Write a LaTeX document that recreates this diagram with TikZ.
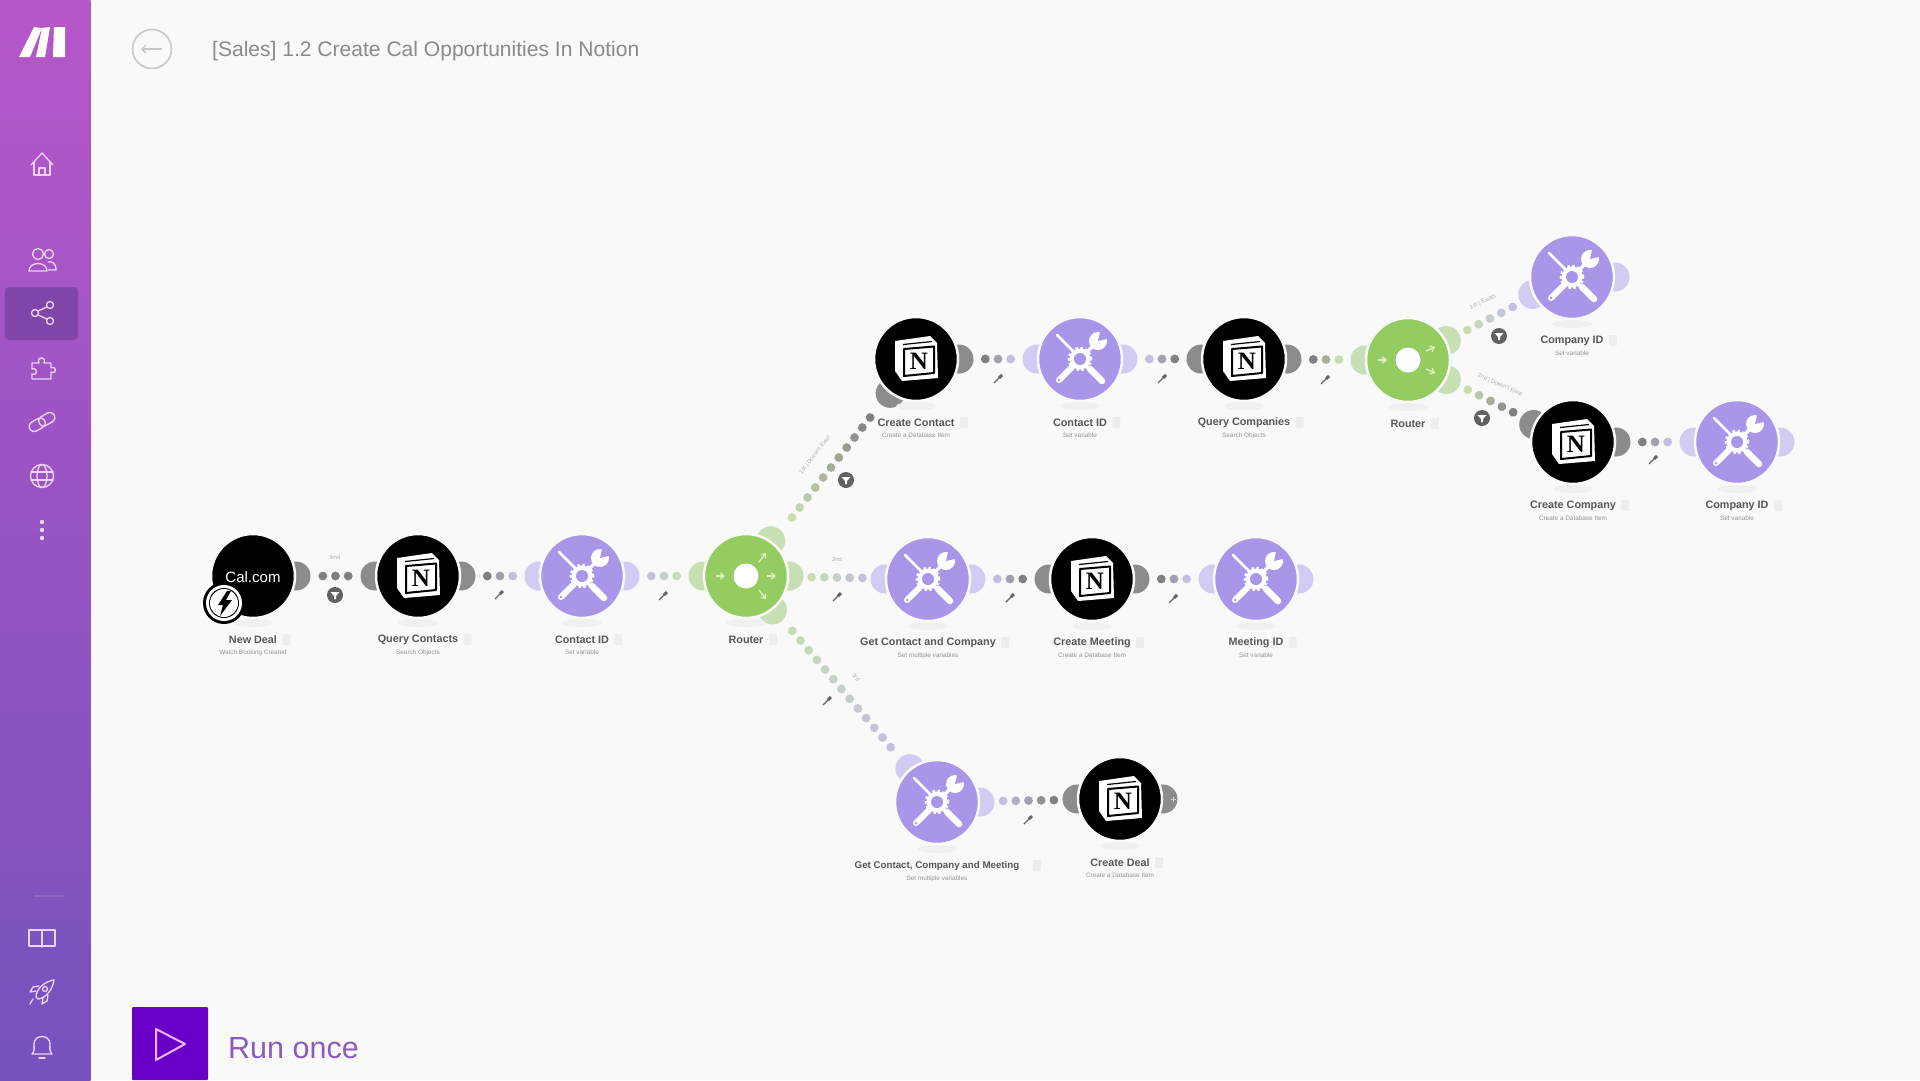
\documentclass[tikz,border=0pt]{standalone}
\usepackage{fontspec}
\setmainfont{Liberation Sans}
\newfontfamily\serifn{Liberation Serif}
\usetikzlibrary{calc,decorations.markings,arrows.meta}
\definecolor{bgc}{HTML}{F9F9F9}
\definecolor{purp}{HTML}{A996E8}
\definecolor{grn}{HTML}{95CC62}
\definecolor{earP}{HTML}{D3CCF2}
\definecolor{earG}{HTML}{8C8C8C}
\definecolor{earV}{HTML}{C8DEB4}
\definecolor{dotP}{HTML}{C4BFDE}
\definecolor{dotG}{HTML}{808080}
\definecolor{dotV}{HTML}{C9DDB5}
\definecolor{side}{HTML}{EFD2F8}
\definecolor{sideT}{HTML}{B656C9}
\definecolor{sideM}{HTML}{A252C2}
\definecolor{sideB}{HTML}{7652BC}
\definecolor{rarr}{HTML}{DDF2C6}
\definecolor{runbtn}{HTML}{6A00C8}
\definecolor{runpl}{HTML}{F0B8F8}
\definecolor{runtx}{HTML}{8A5CC0}
\definecolor{tabc}{HTML}{7F45A8}
\tikzset{
  x=1pt,y=-1pt,
  modbase/.style={circle,minimum size=84pt,inner sep=0pt,draw=bgc,line width=2.5pt},
  titletxt/.style={inner sep=0pt,font=\bfseries\fontsize{10.8}{12}\selectfont,text=black!66},
  subtxt/.style={inner sep=0pt,font=\fontsize{6.4}{8}\selectfont,text=black!42},
  notebox/.style={inner sep=0pt,minimum width=8pt,minimum height=11pt,fill=black!7,rounded corners=1pt},
  linklbl/.style={inner sep=0pt,font=\fontsize{5.8}{7}\selectfont,text=black!32},
  sideline/.style={draw=side,line width=1.35pt,line cap=round,line join=round,fill=none},
  dotlink/.style n args={3}{decorate,decoration={markings,mark=at position 0.5 with {%
    \foreach \k in {1,...,#3}{\pgfmathsetmacro\mx{100*(\k-1)/(#3-1)}%
      \fill[color={#2!\mx!#1}] ({(\k-(#3+1)/2)*12.7pt},0pt) circle (4.4pt);}}}},
  rarrow/.style={draw=rarr,line width=1.3pt,-{Straight Barb[length=3.5pt,width=6pt]}},
}
\def\notegap{5pt}
% name, x, y, fill, ear colour, ear angles, title
\newcommand\modul[7]{%
  \foreach \ang in {#6}{\fill[#5] ($(#2,#3)+(\ang:43)$) circle (14.5pt);}%
  \fill[black!6] (#2,#3+47) ellipse (20pt and 4pt);%
  \node[modbase,fill=#4] (#1) at (#2,#3) {};%
  \node[titletxt] (#1-t) at (#2,#3+63.5) {#7};%
  \node[notebox,anchor=west,xshift=\notegap] (#1-b) at (#1-t.east) {};%
}
\newcommand\subl[2]{\node[subtxt] (#1-s) at ($(#1)+(0,76.5)$) {#2};}
\newcommand\notionicon[1]{%
  \begin{scope}[shift={(#1)}]
    \fill[white] (-21,-18) -- (14,-23) -- (21,-16) -- (22,19) -- (-14,22) -- (-21,12) -- cycle;
    \draw[black,line width=1.2pt] (-13,-14.5) -- (16,-17.5);
    \draw[black,line width=2pt,fill=white,line join=round] (-12,-10) -- (18,-12.5) -- (18,14) -- (-12,17) -- cycle;
    \node[inner sep=0pt,font=\serifn\bfseries\fontsize{25}{25}\selectfont,text=black] (#1-n) at (3,2) {N};
  \end{scope}}
\newcommand\toolsicon[1]{%
  \begin{scope}[shift={(#1)}]
    \draw[white,line width=2.6pt,line cap=round] (-23,-24) -- (-5,-6);
    \draw[white,line width=2.6pt] (5,5) -- (9,9);
    \draw[white,line width=6.5pt,line cap=round] (10,10) -- (22,22);
    \draw[white,line width=6pt,line cap=round] (-21,21) -- (-8,8);
    \fill[purp] (-21,21) circle (1.4pt);
    \draw[white,line width=3.5pt] (6,-6) -- (15,-15);
    \fill[white] (18,-18) circle (9pt);
    \fill[purp] (18,-18) -- (31,-21) -- (21,-31) -- cycle;
    \draw[white,line width=2.6pt,dash pattern=on 2.4pt off 2.4pt] (0,0) circle (11pt);
    \fill[white] (0,0) circle (10.5pt);
    \fill[purp] (0,0) circle (6pt);
  \end{scope}}
\newcommand\filtericon[2]{%
  \fill[black!62] (#1,#2) circle (8pt);
  \fill[white] (#1-4.5,#2-3) -- (#1+4.5,#2-3) -- (#1+1,#2+1) -- (#1+1,#2+4) -- (#1-1,#2+4) -- (#1-1,#2+1) -- cycle;}
\newcommand\wrenchicon[2]{%
  \draw[black!60,line width=1.3pt] (#1-4,#2+4) -- (#1+2,#2-2);
  \draw[black!60,line width=3pt] (#1+1,#2-1) -- (#1+4,#2-4);}
\begin{document}
\begin{tikzpicture}
\useasboundingbox (0,0) rectangle (1920,1080);
\fill[bgc] (0,0) rectangle (1920,1080);
% sidebar
\shade[top color=sideT,middle color=sideM,bottom color=sideB] (0,0) rectangle (90.6,1080);
\fill[white] (19,57) -- (30,57) -- (42,28) -- (34,27) -- cycle;
\fill[white] (36,57) -- (45,57) -- (50,27) -- (42,28) -- cycle;
\fill[white] (53,57) -- (65,57) -- (65,27) -- (54,27) -- cycle;
\fill[tabc,rounded corners=4pt] (5,287) rectangle (78,340);
% home
\begin{scope}[shift={(42,164)}]
  \draw[sideline] (-11,1) -- (0,-11) -- (11,1);
  \draw[sideline] (-8,-2) -- (-8,11) -- (8,11) -- (8,-2);
  \draw[sideline] (-3,11) -- (-3,4) -- (3,4) -- (3,11);
\end{scope}
% people
\begin{scope}[shift={(42,260)}]
  \draw[sideline] (-4,-6) circle (5.5pt);
  \draw[sideline] (7,-6) circle (4.5pt);
  \draw[sideline] (-13,11) .. controls (-13,1) and (5,1) .. (5,11) -- cycle;
  \draw[sideline] (6,2) .. controls (10,1) and (14,3) .. (14,10) -- (6,10);
\end{scope}
% share
\begin{scope}[shift={(42,313)}]
  \draw[sideline] (-7,0) circle (3.5pt);
  \draw[sideline] (8,-8) circle (3.5pt);
  \draw[sideline] (8,8) circle (3.5pt);
  \draw[sideline] (-4,-2) -- (5,-6);
  \draw[sideline] (-4,2) -- (5,6);
\end{scope}
% puzzle
\begin{scope}[shift={(42,369)}]
  \draw[sideline] (-10,-6) -- (-3,-6) .. controls (-6,-13) and (5,-13) .. (2,-6) -- (9,-6) -- (9,-1) .. controls (15,-4) and (15,6) .. (9,3) -- (9,10) -- (-10,10) -- (-10,5) .. controls (-4,7) and (-4,-2) .. (-10,0) -- cycle;
\end{scope}
% link
\begin{scope}[shift={(42,422)},rotate=30]
  \draw[sideline,rounded corners=4.5pt] (-14,-5) rectangle (3,5);
  \draw[sideline,rounded corners=4.5pt] (-3,-5) rectangle (14,5);
\end{scope}
% globe
\begin{scope}[shift={(42,476)}]
  \draw[sideline] (0,0) circle (11.5pt);
  \draw[sideline] (0,0) ellipse (5pt and 11.5pt);
  \draw[sideline] (-11,-4) -- (11,-4);
  \draw[sideline] (-11,4) -- (11,4);
\end{scope}
% dots
\foreach \yy in {522,530,538}{\fill[side] (42,\yy) circle (2.2pt);}
\fill[white,opacity=.12] (34,895) rectangle (64,897);
% book
\begin{scope}[shift={(42,938)}]
  \draw[sideline] (0,-8) -- (-13,-8) -- (-13,8) -- (0,8) -- (13,8) -- (13,-8) -- cycle;
  \draw[sideline] (0,-8) -- (0,9);
\end{scope}
% rocket
\begin{scope}[shift={(42,992)}]
  \draw[sideline] (-6,5) .. controls (-6,-4) and (4,-11) .. (12,-12) .. controls (11,-4) and (5,6) .. (-4,7) -- cycle;
  \draw[sideline] (3,-3) circle (2.5pt);
  \draw[sideline] (-6,-1) -- (-12,0) -- (-9,-5) -- (-3,-6);
  \draw[sideline] (1,6) -- (0,12) -- (5,9) -- (6,3);
  \draw[sideline] (-9,7) -- (-12,12);
\end{scope}
% bell
\begin{scope}[shift={(42,1047)}]
  \draw[sideline] (-10,7) .. controls (-7,4) and (-8,0) .. (-8,-3) .. controls (-8,-13) and (8,-13) .. (8,-3) .. controls (8,0) and (7,4) .. (10,7) -- cycle;
  \draw[sideline] (-3,11) -- (3,11);
\end{scope}
% header
\draw[black!22,line width=1.6pt] (152,49) circle (19.5pt);
\draw[black!22,line width=1.3pt,-{Straight Barb[length=4pt,width=8pt]}] (162,49) -- (141,49);
\node[inner sep=0pt,anchor=west,font=\fontsize{21.05}{24}\selectfont,text=black!46] (wftitle) at (212,51.5) {[Sales] 1.2 Create Cal Opportunities In Notion};
% run button
\fill[runbtn,rounded corners=1pt] (132,1007) rectangle (208,1080);
\draw[runpl,line width=2pt,line join=round] (156,1029) -- (185,1044) -- (156,1060) -- cycle;
\node[inner sep=0pt,anchor=west,font=\fontsize{30.5}{34}\selectfont,text=runtx] (runonce) at (228,1048) {Run once};
% modules
\modul{cal}{253}{576}{black}{earG}{0}{New Deal}\subl{cal}{Watch Booking Created}
\modul{qc}{418}{576}{black}{earG}{0,180}{Query Contacts}\subl{qc}{Search Objects}\notionicon{qc}
\modul{cid}{582}{576}{purp}{earP}{0,180}{Contact ID}\subl{cid}{Set variable}\toolsicon{cid}
\modul{r1}{746}{576}{grn}{earV}{0,180,-55,52}{Router}
\modul{gcc}{928}{579}{purp}{earP}{0,180}{Get Contact and Company}\subl{gcc}{Set multiple variables}\toolsicon{gcc}
\modul{cm}{1092}{579}{black}{earG}{0,180}{Create Meeting}\subl{cm}{Create a Database Item}\notionicon{cm}
\modul{mid}{1256}{579}{purp}{earP}{0,180}{Meeting ID}\subl{mid}{Set variable}\toolsicon{mid}
\modul{cc}{916}{359}{black}{earG}{0,127}{Create Contact}\subl{cc}{Create a Database Item}\notionicon{cc}
\modul{cid2}{1080}{359}{purp}{earP}{0,180}{Contact ID}\subl{cid2}{Set variable}\toolsicon{cid2}
\modul{qco}{1244}{359}{black}{earG}{0,180}{Query Companies}\subl{qco}{Search Objects}\notionicon{qco}
\modul{r2}{1408}{360}{grn}{earV}{180,-27,27}{Router}
\modul{coid}{1572}{277}{purp}{earP}{0,156}{Company ID}\subl{coid}{Set variable}\toolsicon{coid}
\modul{cco}{1573}{442}{black}{earG}{0,204}{Create Company}\subl{cco}{Create a Database Item}\notionicon{cco}
\modul{coid2}{1737}{442}{purp}{earP}{0,180}{Company ID}\subl{coid2}{Set variable}\toolsicon{coid2}
\def\notegap{13pt}
\modul{gccm}{937}{802}{purp}{earP}{0,231}{\fontsize{9.75}{12}\selectfont Get Contact, Company and Meeting}\subl{gccm}{Set multiple variables}\toolsicon{gccm}
\def\notegap{5pt}
\modul{cd}{1120}{799}{black}{earG}{0,180}{Create Deal}\subl{cd}{Create a Database Item}\notionicon{cd}
% Cal.com face and trigger badge
\node[inner sep=0pt,font=\fontsize{15}{16}\selectfont,text=white] (caltxt) at (253,577) {Cal.com};
\fill[black] (224,603) circle (21pt);
\fill[white] (224,603) circle (18pt);
\fill[black] (224,603) circle (15pt);
\fill[white] (224,603) circle (14pt);
\fill[black] (227,591) -- (218,605) -- (223,605) -- (220,616) -- (232,600) -- (226,600) -- (231,591) -- cycle;
% '+' on the last ear
\draw[white,opacity=.6,line width=.8pt] (1171,799) -- (1176,799) (1173.5,796.5) -- (1173.5,801.5);
% router faces
\foreach \rn in {r1,r2}{\fill[white] (\rn) circle (12.5pt);}
\begin{scope}[shift={(r1)}]
  \draw[rarrow] (-30,0) -- (-21,0);
  \draw[rarrow] (21,0) -- (30,0);
  \draw[rarrow] (13,-14) -- (20,-23);
  \draw[rarrow] (13,14) -- (20,23);
\end{scope}
\begin{scope}[shift={(r2)}]
  \draw[rarrow] (-30,0) -- (-21,0);
  \draw[rarrow] (18,-9) -- (27,-13);
  \draw[rarrow] (18,9) -- (27,13);
\end{scope}
% connectors
\draw[dotlink={dotG}{dotG}{3}] (cal) -- (qc);
\draw[dotlink={dotG}{dotP}{3}] (qc) -- (cid);
\draw[dotlink={dotP}{dotV}{3}] (cid) -- (r1);
\draw[dotlink={dotV}{dotP}{5}] (r1) -- (gcc);
\draw[dotlink={dotP}{dotG}{3}] (gcc) -- (cm);
\draw[dotlink={dotG}{dotP}{3}] (cm) -- (mid);
\draw[dotlink={dotV}{dotG}{11}] (r1) -- (cc);
\draw[dotlink={dotG}{dotP}{3}] (cc) -- (cid2);
\draw[dotlink={dotP}{dotG}{3}] (cid2) -- (qco);
\draw[dotlink={dotG}{dotV}{3}] (qco) -- (r2);
\draw[dotlink={dotV}{dotP}{5}] (r2) -- (coid);
\draw[dotlink={dotV}{dotG}{5}] (r2) -- (cco);
\draw[dotlink={dotG}{dotP}{3}] (cco) -- (coid2);
\draw[dotlink={dotV}{dotP}{13}] (r1) -- (gccm);
\draw[dotlink={dotP}{dotG}{5}] (gccm) -- (cd);
% connector marks
\filtericon{335}{595}
\filtericon{846}{480}
\filtericon{1499}{336}
\filtericon{1482}{418}
\wrenchicon{499}{595}
\wrenchicon{663}{596}
\wrenchicon{837}{597}
\wrenchicon{1010}{598}
\wrenchicon{1173}{599}
\wrenchicon{998}{379}
\wrenchicon{1162}{379}
\wrenchicon{1325}{380}
\wrenchicon{827}{701}
\wrenchicon{1028}{820}
\wrenchicon{1653}{460}
% connector labels
\node[linklbl] (l1) at (335,557) {limit};
\node[linklbl] (l2) at (837,559) {2nd};
\node[linklbl,rotate=52] (l3) at (815,455) {1st | Doesn't Exist};
\node[linklbl,rotate=-50] (l4) at (856,677) {3rd};
\node[linklbl,rotate=25] (l5) at (1483,302) {1st | Exists};
\node[linklbl,rotate=-24] (l6) at (1500,385) {2nd | Doesn't Exist};
\end{tikzpicture}
\end{document}
